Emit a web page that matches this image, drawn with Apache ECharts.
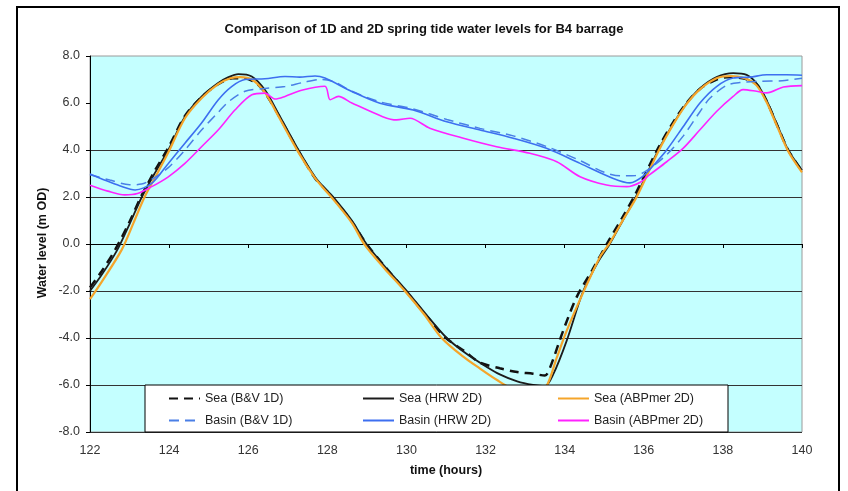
<!DOCTYPE html>
<html><head><meta charset="utf-8">
<script src="https://cdn.jsdelivr.net/npm/echarts@6/dist/echarts.min.js"></script>
<style>html,body{margin:0;padding:0;background:#fff}#c{width:848px;height:491px}</style>
</head><body><div id="c"></div>
<script>
const titleText = 'Comparison of 1D and 2D spring tide water levels for B4 barrage';
const xName = 'time (hours)';
const yName = 'Water level (m OD)';
const xMin = 122, xMax = 140, xStep = 2;
const yMin = -8, yMax = 8, yStep = 2;
const seriesNames = ['Sea (B&V 1D)', 'Sea (HRW 2D)', 'Sea (ABPmer 2D)', 'Basin (B&V 1D)', 'Basin (HRW 2D)', 'Basin (ABPmer 2D)'];

const seaBV = [[122,-1.85],[122.3,-1.15],[122.65,-0.2],[123,0.95],[123.3,2.05],[123.65,3.15],[123.98,4.1],[124.4,5.45],[124.82,6.25],[125.24,6.8],[125.6,7.05],[125.9,7.05],[126.2,6.85],[126.42,6.45],[126.76,5.5],[127.27,3.95],[127.69,2.8],[127.94,2.35],[128.15,1.95],[128.62,0.95],[128.99,0],[129.5,-1.05],[130.01,-2.05],[130.5,-3.05],[131,-4.0],[131.5,-4.6],[131.86,-5.05],[132.36,-5.29],[132.8,-5.45],[133.2,-5.52],[133.5,-5.6],[133.63,-5.26],[133.96,-3.7],[134.3,-2.27],[134.7,-1.1],[135.1,0.1],[135.45,1.1],[135.78,2.1],[136.37,4.1],[136.75,5.2],[137.08,6.0],[137.42,6.6],[137.84,7.0],[138.1,7.1],[138.5,7.05],[138.85,6.8],[139.1,6.1],[139.36,5.1],[139.65,4.0],[140,3.1]];
const seaHRW = [[122,-2.0],[122.3,-1.3],[122.68,-0.28],[123,0.85],[123.31,2.0],[123.65,3.05],[123.98,4.0],[124.4,5.42],[124.82,6.27],[125.24,6.85],[125.5,7.1],[125.75,7.23],[126.09,7.13],[126.42,6.56],[126.76,5.56],[127.27,4.0],[127.69,2.85],[127.94,2.36],[128.15,2.0],[128.62,1.0],[128.99,0],[129.5,-1.05],[130.01,-2.0],[130.5,-3.0],[131.02,-4.0],[131.5,-4.65],[132,-5.2],[132.36,-5.55],[132.8,-5.85],[133.2,-6.0],[133.5,-6.05],[133.71,-5.55],[134.05,-4.12],[134.47,-2.0],[134.85,-0.75],[135.14,0],[135.47,1.0],[135.8,2.0],[136.37,4.0],[136.75,5.13],[137.08,5.98],[137.42,6.62],[137.84,7.1],[138.26,7.27],[138.6,7.2],[138.85,6.84],[139.1,6.13],[139.36,5.13],[139.65,4.0],[140,3.14]];
const seaABP = [[122,-2.35],[122.3,-1.6],[122.8,-0.25],[123.1,0.9],[123.38,2.0],[123.7,3.0],[123.98,3.9],[124.4,5.35],[124.82,6.2],[125.24,6.8],[125.55,7.05],[125.8,7.1],[126.09,7.0],[126.42,6.45],[126.76,5.45],[127.27,3.9],[127.69,2.8],[127.94,2.3],[128.15,1.9],[128.62,0.9],[128.95,-0.05],[129.45,-1.05],[129.96,-2.0],[130.45,-3.0],[130.89,-4.0],[131.4,-4.75],[131.86,-5.3],[132.3,-5.8],[132.6,-6.1],[133,-6.3],[133.3,-6.25],[133.54,-6.05],[133.8,-4.84],[134.05,-3.7],[134.47,-2.06],[134.89,-0.56],[135.14,0.05],[135.5,1.1],[135.82,2.0],[136.37,3.95],[136.75,5.1],[137.08,5.95],[137.42,6.58],[137.84,7.05],[138.2,7.15],[138.55,7.05],[138.85,6.75],[139.1,6.05],[139.36,5.05],[139.65,3.95],[140,3.05]];
const basinBV = [[122,2.95],[122.5,2.72],[123,2.52],[123.3,2.55],[123.56,2.75],[123.98,3.25],[124.4,4.0],[124.82,4.85],[125.24,5.6],[125.5,6.05],[125.92,6.5],[126.42,6.62],[126.93,6.7],[127.4,6.88],[127.85,7.0],[128.2,6.88],[128.62,6.5],[129.33,6.05],[130.17,5.75],[131.02,5.3],[131.86,4.92],[132.7,4.6],[133.54,4.15],[134.39,3.55],[135.0,3.05],[135.4,2.9],[135.8,2.92],[136.1,3.15],[136.58,3.8],[137.0,4.6],[137.42,5.63],[137.67,6.2],[138.09,6.75],[138.43,6.87],[138.94,6.92],[139.5,6.95],[140,7.05]];
const basinHRW = [[122,2.98],[122.4,2.7],[122.75,2.48],[123.14,2.3],[123.56,2.58],[123.98,3.43],[124.4,4.29],[124.82,5.15],[125.24,6.13],[125.58,6.7],[125.92,7.0],[126.42,7.03],[126.93,7.13],[127.3,7.1],[127.69,7.15],[127.94,7.06],[128.62,6.49],[129.33,5.99],[130.17,5.7],[131.02,5.2],[131.86,4.85],[132.7,4.5],[133.54,4.07],[134.39,3.43],[135.23,2.79],[135.65,2.6],[135.99,2.9],[136.3,3.45],[136.58,4.0],[137,5.0],[137.42,6.0],[137.84,6.7],[138.26,7.06],[138.68,7.1],[139.11,7.2],[139.6,7.2],[140,7.18]];
const basinABP = [[122,2.5],[122.45,2.25],[122.88,2.09],[123.2,2.15],[123.56,2.44],[123.98,2.86],[124.4,3.43],[124.82,4.14],[125.24,4.85],[125.67,5.71],[126.09,6.35],[126.42,6.42],[126.68,6.17],[126.93,6.28],[127.35,6.54],[127.94,6.71],[128.07,6.14],[128.28,6.28],[128.62,6.0],[129.4,5.42],[129.75,5.28],[130.09,5.35],[130.59,4.93],[131.44,4.5],[132.28,4.14],[133.12,3.86],[133.8,3.5],[134.39,2.86],[135.06,2.51],[135.57,2.44],[135.9,2.62],[136.15,2.95],[136.58,3.5],[137,4.08],[137.42,4.86],[137.84,5.64],[138.26,6.28],[138.51,6.57],[138.85,6.5],[139.11,6.43],[139.53,6.68],[140,6.74]];

const FONT = '"Liberation Sans", Arial, sans-serif';
const chart = echarts.init(document.getElementById('c'), null, {renderer: 'canvas'});

function mk(name, data, color, width, dash) {
  return {
    name, type: 'line', data, symbol: 'none', showSymbol: false, smooth: 0.3,
    lineStyle: {color, width, type: dash || 'solid'},
    itemStyle: {color},
    emphasis: {disabled: true}, animation: false
  };
}

const legendCommon = {
  orient: 'vertical', top: 392, itemWidth: 31, itemHeight: 14, itemGap: 9, padding: 0,
  itemStyle: {opacity: 0},
  textStyle: {fontSize: 12.5, fontFamily: FONT, color: '#222'}, z: 6, selectedMode: false
};

chart.setOption({
  backgroundColor: '#fff',
  animation: false,
  title: {text: titleText, left: 'center', top: 18,
    textStyle: {fontSize: 13, fontWeight: 'bold', color: '#111', fontFamily: FONT}},
  grid: {left: 90, right: 46, top: 56, bottom: 59, show: true, backgroundColor: '#c4ffff',
    borderColor: '#9a9a9a', borderWidth: 1},
  xAxis: {type: 'value', min: xMin, max: xMax, interval: xStep,
    axisLine: {show: true, lineStyle: {color: '#000', width: 1}},
    axisTick: {show: true, length: 4, lineStyle: {color: '#000'}},
    axisLabel: {margin: 12, fontSize: 12.5, color: '#333', fontFamily: FONT},
    splitLine: {show: false}},
  yAxis: {type: 'value', min: yMin, max: yMax, interval: yStep,
    axisLine: {show: true, lineStyle: {color: '#000', width: 1}},
    axisTick: {show: true, length: 4, lineStyle: {color: '#000'}},
    axisLabel: {margin: 10, fontSize: 12.5, color: '#333', fontFamily: FONT, formatter: v => v.toFixed(1)},
    splitLine: {show: true, lineStyle: {width: 1,
      color: ['#333','#333','#333','#333','#333','#333','#333','rgba(0,0,0,0)','rgba(0,0,0,0)']}}},
  legend: [
    {...legendCommon, left: 168, data: [seriesNames[0], seriesNames[3]]},
    {...legendCommon, left: 362, data: [seriesNames[1], seriesNames[4]]},
    {...legendCommon, left: 557, data: [seriesNames[2], seriesNames[5]]}
  ],
  graphic: [
    {type: 'rect', z: 0, silent: true, shape: {x: 17, y: 7, width: 822, height: 500},
      style: {fill: 'none', stroke: '#000', lineWidth: 2}},
    {type: 'rect', z: 5, silent: true, shape: {x: 145, y: 385, width: 583, height: 47},
      style: {fill: '#fff', stroke: '#000', lineWidth: 1}},
    {type: 'text', z: 5, x: 43, y: 243, rotation: Math.PI / 2, silent: true,
      style: {text: yName, font: 'bold 12.5px ' + FONT, fill: '#111', align: 'center', verticalAlign: 'middle'}},
    {type: 'text', z: 5, x: 446, y: 471, silent: true,
      style: {text: xName, font: 'bold 12.5px ' + FONT, fill: '#111', align: 'center', verticalAlign: 'middle'}}
  ],
  series: [
    mk(seriesNames[0], seaBV, '#111', 2.5, [9, 6]),
    mk(seriesNames[1], seaHRW, '#1c1c1c', 1.8),
    mk(seriesNames[2], seaABP, '#f5a52a', 2.2),
    mk(seriesNames[3], basinBV, '#4a7fe6', 1.5, [10, 6]),
    mk(seriesNames[4], basinHRW, '#3d6ff0', 1.6),
    mk(seriesNames[5], basinABP, '#ff22ff', 1.6)
  ]
});
</script></body></html>
